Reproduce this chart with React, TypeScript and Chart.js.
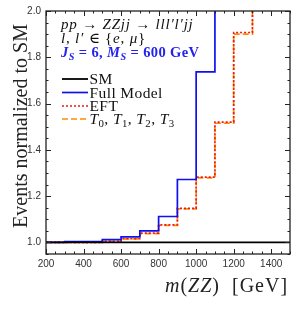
import React, { useEffect, useRef } from 'react';
import { Chart, registerables } from 'chart.js';

Chart.register(...registerables);

// ---- data ----
const binEdges = [200, 300, 400, 500, 600, 700, 800, 900, 1000, 1100, 1200, 1300, 1400, 1500];
const smValues = [1, 1, 1, 1, 1, 1, 1, 1, 1, 1, 1, 1, 1];
const fullModelValues = [1.0, 1.004, 1.004, 1.012, 1.024, 1.05, 1.112, 1.272, 1.737, 2.45, 3.2, 4.1, 5.0];
const eftValues = [1.0, 1.0, 1.0, 1.005, 1.016, 1.04, 1.076, 1.147, 1.282, 1.52, 1.907, 2.5, 3.2];
const tValues = [1.0, 1.0, 1.0, 1.004, 1.015, 1.038, 1.074, 1.145, 1.279, 1.515, 1.9, 2.5, 3.2];
const xTickValues = [200, 400, 600, 800, 1000, 1200, 1400];
const yTickValues = [1.0, 1.2, 1.4, 1.6, 1.8, 2.0];
const seriesLabels = ['SM', 'Full Model', 'EFT', 'T0, T1, T2, T3'];

const SERIF = '"Liberation Serif", "DejaVu Serif", serif';
const SANS = '"Liberation Sans", Arial, sans-serif';

function stepPoints(vals: number[]) {
  return binEdges.map((x, i) => ({ x, y: vals[Math.min(i, vals.length - 1)] }));
}

type Seg = { t: string; it?: boolean; sub?: boolean; b?: boolean };

function drawRich(ctx: CanvasRenderingContext2D, x: number, y: number, segs: Seg[], size: number, color: string, spacing = 0) {
  let cx = x;
  ctx.textAlign = 'left';
  ctx.textBaseline = 'alphabetic';
  for (const s of segs) {
    const fs = s.sub ? size * 0.7 : size;
    ctx.font = `${s.it ? 'italic ' : ''}${s.b ? 'bold ' : ''}${fs}px ${SERIF}`;
    ctx.fillStyle = color;
    for (const ch of Array.from(s.t)) {
      ctx.fillText(ch, cx, y + (s.sub ? size * 0.22 : 0));
      cx += ctx.measureText(ch).width + spacing;
    }
  }
  return cx - x;
}

const decorPlugin = {
  id: 'decor',
  afterDraw(chart: any) {
    const ctx: CanvasRenderingContext2D = chart.ctx;
    const { left, right, top, bottom } = chart.chartArea;
    const xs = chart.scales.x;
    const ys = chart.scales.y;
    ctx.save();
    // frame
    ctx.strokeStyle = '#222';
    ctx.lineWidth = 1.3;
    ctx.strokeRect(left, top, right - left, bottom - top);
    // inward ticks
    ctx.lineWidth = 1;
    ctx.beginPath();
    for (let v = 200; v <= 1500; v += 50) {
      const px = Math.round(xs.getPixelForValue(v)) + 0.5;
      const len = v % 200 === 0 ? 5 : 2.5;
      ctx.moveTo(px, bottom); ctx.lineTo(px, bottom - len);
      ctx.moveTo(px, top); ctx.lineTo(px, top + len);
    }
    for (let k = 19; k <= 40; k++) {
      const v = k * 0.05;
      const py = Math.round(ys.getPixelForValue(v)) + 0.5;
      const len = k % 4 === 0 ? 5 : 2.5;
      ctx.moveTo(left, py); ctx.lineTo(left + len, py);
      ctx.moveTo(right, py); ctx.lineTo(right - len, py);
    }
    ctx.stroke();

    // annotations
    drawRich(ctx, 61, 29, [
      { t: 'pp', it: true }, { t: ' → ' }, { t: 'ZZjj', it: true }, { t: ' → ' }, { t: 'lll′l′jj', it: true },
    ], 15, '#111', 0.8);
    drawRich(ctx, 61, 43, [
      { t: 'l', it: true }, { t: ', ' }, { t: 'l′', it: true }, { t: ' ∈ {' }, { t: 'e', it: true }, { t: ', ' }, { t: 'μ', it: true }, { t: '}' },
    ], 15, '#111', 0.8);
    drawRich(ctx, 61, 57, [
      { t: 'J', it: true, b: true }, { t: 'S', it: true, b: true, sub: true }, { t: ' = 6, ', b: true },
      { t: 'M', it: true, b: true }, { t: 'S', it: true, b: true, sub: true }, { t: ' = 600 GeV', b: true },
    ], 14.5, '#2323f0', 0.4);

    // legend
    const rows = [79, 92.5, 106, 119];
    chart.data.datasets.forEach((ds: any, i: number) => {
      const y = rows[i];
      ctx.beginPath();
      ctx.strokeStyle = ds.borderColor;
      ctx.lineWidth = ds.borderWidth;
      ctx.setLineDash(ds.borderDash || []);
      ctx.moveTo(62, y); ctx.lineTo(88, y);
      ctx.stroke();
      ctx.setLineDash([]);
      const baseY = y + 5;
      if (i === 3) {
        drawRich(ctx, 89.5, baseY, [
          { t: 'T', it: true }, { t: '0', sub: true }, { t: ', ' },
          { t: 'T', it: true }, { t: '1', sub: true }, { t: ', ' },
          { t: 'T', it: true }, { t: '2', sub: true }, { t: ', ' },
          { t: 'T', it: true }, { t: '3', sub: true },
        ], 15.5, '#111', 0.4);
      } else {
        drawRich(ctx, 89.5, baseY, [{ t: ds.label }], 15.5, '#111', 0.4);
      }
    });

    // axis titles
    drawRich(ctx, 165, 292, [
      { t: 'm', it: true }, { t: '(' }, { t: 'ZZ', it: true }, { t: ')  [GeV]' },
    ], 20, '#222', 1);

    ctx.save();
    ctx.translate(27, 126);
    ctx.rotate(-Math.PI / 2);
    ctx.textAlign = 'center';
    ctx.textBaseline = 'alphabetic';
    ctx.font = `20px ${SERIF}`;
    ctx.fillStyle = '#222';
    ctx.fillText('Events normalized to SM', 0, 0);
    ctx.restore();

    ctx.restore();
  },
};

export default function App() {
  const ref = useRef<HTMLCanvasElement | null>(null);
  useEffect(() => {
    if (!ref.current) return;
    const chart = new Chart(ref.current, {
      type: 'line',
      data: {
        datasets: [
          { label: seriesLabels[0], data: stepPoints(smValues), borderColor: '#000000', borderWidth: 1.8, stepped: true, pointRadius: 0, fill: false },
          { label: seriesLabels[1], data: stepPoints(fullModelValues), borderColor: '#1010ee', borderWidth: 1.7, stepped: true, pointRadius: 0, fill: false },
          { label: seriesLabels[2], data: stepPoints(eftValues), borderColor: '#f01818', borderWidth: 1.7, borderDash: [2, 2], stepped: true, pointRadius: 0, fill: false },
          { label: seriesLabels[3], data: stepPoints(tValues), borderColor: '#ff8c00', borderWidth: 1.7, borderDash: [6, 3], stepped: true, pointRadius: 0, fill: false },
        ],
      },
      options: {
        animation: false,
        responsive: false,
        layout: { padding: { top: 10, right: 16, left: 0, bottom: 0 } },
        plugins: { legend: { display: false }, tooltip: { enabled: false } },
        scales: {
          x: {
            type: 'linear',
            min: 200,
            max: 1500,
            grid: { display: false, drawTicks: false },
            border: { display: false },
            afterBuildTicks: (s: any) => { s.ticks = xTickValues.map((v) => ({ value: v })); },
            afterFit: (s: any) => { s.height = 56; },
            ticks: { font: { size: 10, family: SANS }, color: '#333', padding: 4, maxRotation: 0, autoSkip: false, callback: (v: any) => String(v) },
          },
          y: {
            type: 'linear',
            min: 0.95,
            max: 2.0,
            grid: { display: false, drawTicks: false },
            border: { display: false },
            afterBuildTicks: (s: any) => { s.ticks = yTickValues.map((v) => ({ value: v })); },
            afterFit: (s: any) => { s.width = 46; },
            ticks: { font: { size: 10, family: SANS }, color: '#333', padding: 5, callback: (v: any) => Number(v).toFixed(1) },
          },
        },
      },
      plugins: [decorPlugin],
    } as any);
    return () => chart.destroy();
  }, []);
  return (
    <div style={{ position: 'absolute', left: 0, top: 0, width: 306, height: 310, background: '#fff' }}>
      <canvas ref={ref} width={306} height={310} style={{ display: 'block' }} />
    </div>
  );
}
